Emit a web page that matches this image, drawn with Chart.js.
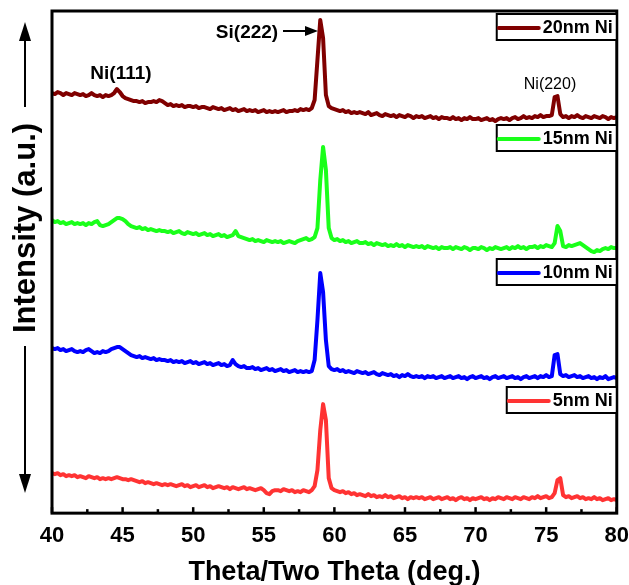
<!DOCTYPE html>
<html>
<head>
<meta charset="utf-8">
<script src="https://cdn.jsdelivr.net/npm/chart.js@4.4.1/dist/chart.umd.min.js"></script>
<style>
  html, body { margin: 0; padding: 0; background: #fff; }
  canvas { display: block; }
</style>
</head>
<body>
<canvas id="xrd-chart" width="629" height="585"></canvas>
<script>
// scan angles (deg.)
const twoTheta = [
  40, 40.2, 40.4, 40.6, 40.8, 41, 41.2, 41.4, 41.6, 41.8,
  42, 42.2, 42.4, 42.6, 42.8, 43, 43.2, 43.4, 43.6, 43.8,
  44, 44.2, 44.4, 44.6, 44.8, 45, 45.2, 45.4, 45.6, 45.8,
  46, 46.2, 46.4, 46.6, 46.8, 47, 47.2, 47.4, 47.6, 47.8,
  48, 48.2, 48.4, 48.6, 48.8, 49, 49.2, 49.4, 49.6, 49.8,
  50, 50.2, 50.4, 50.6, 50.8, 51, 51.2, 51.4, 51.6, 51.8,
  52, 52.2, 52.4, 52.6, 52.8, 53, 53.2, 53.4, 53.6, 53.8,
  54, 54.2, 54.4, 54.6, 54.8, 55, 55.2, 55.4, 55.6, 55.8,
  56, 56.2, 56.4, 56.6, 56.8, 57, 57.2, 57.4, 57.6, 57.8,
  58, 58.2, 58.4, 58.6, 58.8, 59, 59.2, 59.4, 59.6, 59.8,
  60, 60.2, 60.4, 60.6, 60.8, 61, 61.2, 61.4, 61.6, 61.8,
  62, 62.2, 62.4, 62.6, 62.8, 63, 63.2, 63.4, 63.6, 63.8,
  64, 64.2, 64.4, 64.6, 64.8, 65, 65.2, 65.4, 65.6, 65.8,
  66, 66.2, 66.4, 66.6, 66.8, 67, 67.2, 67.4, 67.6, 67.8,
  68, 68.2, 68.4, 68.6, 68.8, 69, 69.2, 69.4, 69.6, 69.8,
  70, 70.2, 70.4, 70.6, 70.8, 71, 71.2, 71.4, 71.6, 71.8,
  72, 72.2, 72.4, 72.6, 72.8, 73, 73.2, 73.4, 73.6, 73.8,
  74, 74.2, 74.4, 74.6, 74.8, 75, 75.2, 75.4, 75.6, 75.8,
  76, 76.2, 76.4, 76.6, 76.8, 77, 77.2, 77.4, 77.6, 77.8,
  78, 78.2, 78.4, 78.6, 78.8, 79, 79.2, 79.4, 79.6, 79.8,
  80
];

// intensities (a.u.), curves already offset like in the figure
const ni20 = [
  420, 419, 421, 420, 418, 420, 419, 418, 420, 419,
  418, 419, 417, 418, 420, 418, 417, 418, 416, 418,
  417, 418, 420, 424, 421, 417, 415, 414, 413, 412,
  412, 411, 412, 410, 411, 411, 412, 411, 413, 412,
  410, 408, 409, 407, 408, 407, 408, 406, 407, 407,
  406, 407, 405, 406, 406, 405, 404, 406, 405, 404,
  405, 403, 404, 405, 403, 404, 402, 403, 404, 402,
  403, 402, 403, 401, 402, 403, 401, 402, 401, 402,
  401, 402, 403, 401, 402, 402, 403, 402, 404, 403,
  404, 403, 405, 413, 453, 493, 475, 418, 407, 405,
  404, 403, 402, 403, 401, 402, 400, 401, 400, 401,
  400, 399, 401, 398, 399, 400, 398, 397, 399, 398,
  397, 398, 396, 398, 397, 396, 398, 397, 395, 397,
  396, 397, 395, 396, 397, 395, 396, 394, 396, 395,
  395, 394, 396, 394, 395, 393, 395, 394, 396, 394,
  394, 395, 393, 394, 395, 393, 394, 392, 394, 395,
  394, 395, 393, 395, 396, 394, 395, 397, 395, 396,
  395, 397, 396, 398, 396, 397, 397, 398, 416, 417,
  399, 396, 397, 395, 397, 396, 398, 396, 395, 397,
  396, 395, 397, 396, 395, 397, 396, 394, 396, 395,
  396
];
const ni15 = [
  293, 291, 292, 290, 291, 289, 290, 291, 289, 290,
  289, 290, 288, 290, 289, 291, 292, 288, 287, 288,
  289, 291, 293, 295, 295, 294, 292, 289, 287, 286,
  285, 286, 284, 285, 283, 284, 283, 282, 283, 282,
  282, 281, 282, 280, 281, 282, 280, 279, 281, 280,
  279, 280, 278, 279, 280, 278, 279, 277, 278, 279,
  277, 278, 276, 277, 278, 282, 277, 276, 275, 274,
  273, 274, 272, 273, 272, 271, 273, 272, 271, 272,
  271, 272, 270, 271, 272, 271, 270, 272, 273, 274,
  275, 273, 274, 276, 285, 333, 366, 343, 285, 275,
  273, 274, 272, 273, 271, 272, 270, 271, 272, 270,
  270, 271, 269, 270, 268, 270, 269, 268, 269, 267,
  268, 267, 269, 267, 268, 266, 268, 267, 266, 267,
  266, 267, 265, 267, 266, 265, 266, 264, 266, 265,
  265, 266, 264, 266, 265, 264, 266, 265, 263, 265,
  265, 264, 266, 265, 263, 265, 264, 266, 265, 264,
  265, 266, 264, 266, 265, 267, 265, 266, 264, 266,
  266, 267, 265, 267, 266, 268, 267, 266, 270, 287,
  282, 267, 266, 268, 267, 268, 269, 270, 268, 266,
  264, 262, 261, 263, 262, 264, 265, 264, 266, 265,
  265
];
const ni10 = [
  165, 164, 165, 163, 164, 162, 163, 164, 162, 161,
  162, 161, 163, 164, 162, 160, 161, 160, 162, 161,
  162, 164, 165, 166, 166, 164, 162, 160, 158, 157,
  156, 157, 155, 156, 155, 154, 155, 153, 154, 153,
  153, 152, 153, 151, 152, 151, 152, 150, 151, 152,
  150, 151, 149, 150, 151, 149, 150, 148, 149, 150,
  148, 149, 147, 148, 153, 149, 147, 146, 147, 145,
  145, 146, 144, 145, 143, 144, 145, 143, 144, 142,
  143, 144, 142, 143, 141, 142, 143, 141, 142, 141,
  142, 141, 142, 153, 193, 240, 221, 173, 147, 144,
  143, 144, 142, 143, 141, 142, 141, 140, 142, 141,
  140, 141, 139, 140, 141, 139, 138, 140, 139, 138,
  139, 137, 138, 136, 138, 137, 139, 137, 136, 137,
  136, 137, 135, 137, 136, 137, 135, 136, 137, 135,
  136, 137, 135, 136, 137, 135, 136, 134, 136, 137,
  135, 136, 137, 135, 136, 134, 136, 137, 135, 136,
  137, 135, 136, 137, 135, 136, 134, 136, 137, 135,
  136, 137, 135, 137, 136, 138, 136, 137, 158, 159,
  139, 137, 138, 136, 137, 138, 136, 137, 135, 136,
  137, 135, 136, 134, 136, 135, 137, 134, 135, 136,
  135
];
const ni5 = [
  40, 39, 40, 38, 39, 37, 38, 37, 38, 36,
  37, 36, 35, 37, 36, 35, 36, 34, 35, 34,
  35, 34, 35, 36, 35, 34, 34, 33, 34, 33,
  32, 31, 32, 30, 31, 30, 29, 30, 29, 28,
  29, 28, 29, 28, 27, 28, 29, 27, 28, 26,
  27, 28, 26, 27, 28, 26, 27, 25, 26, 27,
  26, 25, 26, 24, 26, 25, 24, 25, 26, 24,
  25, 24, 23, 24, 25, 23, 20, 19, 22, 23,
  23, 22, 24, 23, 22, 23, 21, 22, 21, 23,
  22, 21, 23, 27, 43, 83, 109, 93, 35, 25,
  23, 22, 21, 22, 20, 21, 19, 20, 18, 19,
  18, 17, 19, 17, 18, 16, 17, 16, 18, 16,
  17, 15, 16, 17, 15, 16, 14, 16, 15, 16,
  15, 16, 14, 15, 16, 14, 15, 16, 14, 15,
  16, 14, 15, 13, 15, 16, 14, 15, 13, 15,
  14, 15, 16, 14, 15, 13, 15, 14, 16, 15,
  14, 16, 15, 14, 16, 15, 14, 16, 15, 14,
  16, 15, 17, 15, 16, 17, 15, 16, 20, 33,
  35, 18, 16, 17, 15, 16, 17, 15, 16, 14,
  15, 14, 16, 14, 15, 13, 14, 15, 13, 14,
  13
];

const seriesNames = ['20nm Ni', '15nm Ni', '10nm Ni', '5nm Ni'];
const seriesValues = [ni20, ni15, ni10, ni5];
const seriesColors = ['#800000', '#1aff1a', '#0000ff', '#ff3333'];
const peakLabels = ['Ni(111)', 'Si(222)', 'Ni(220)'];

const FONT = "'Liberation Sans', Arial, sans-serif";

// frame, inner ticks, legend boxes, peak labels and the y title with arrows
const decorations = {
  id: 'decorations',
  afterDraw(chart) {
    const ctx = chart.ctx;
    const area = chart.chartArea;
    const xs = chart.scales.x;
    ctx.save();

    // inner tick marks on the bottom axis
    ctx.strokeStyle = '#000';
    ctx.lineWidth = 2.5;
    for (let v = 40; v <= 80; v += 2.5) {
      const px = xs.getPixelForValue(v);
      const len = v % 5 === 0 ? 6 : 4;
      ctx.beginPath();
      ctx.moveTo(px, area.bottom);
      ctx.lineTo(px, area.bottom - len);
      ctx.stroke();
    }

    // frame
    ctx.lineWidth = 3;
    ctx.strokeRect(area.left, area.top, area.right - area.left, area.bottom - area.top);

    // legend boxes, one per curve
    const legendTops = [14, 125, 259, 387];
    ctx.font = 'bold 18px ' + FONT;
    ctx.textBaseline = 'middle';
    ctx.textAlign = 'left';
    seriesNames.forEach((name, i) => {
      const tw = ctx.measureText(name).width;
      const w = 1 + 41 + 4 + tw + 4;
      const h = 26;
      const x0 = area.right - w;
      const y0 = legendTops[i];
      ctx.fillStyle = '#fff';
      ctx.fillRect(x0, y0, w, h);
      ctx.strokeStyle = '#000';
      ctx.lineWidth = 2;
      ctx.strokeRect(x0, y0, w, h);
      ctx.strokeStyle = seriesColors[i];
      ctx.lineWidth = 4;
      ctx.lineCap = 'round';
      ctx.beginPath();
      ctx.moveTo(x0 + 2, y0 + h / 2 + 1);
      ctx.lineTo(x0 + 42, y0 + h / 2 + 1);
      ctx.stroke();
      ctx.lineCap = 'butt';
      ctx.fillStyle = '#000';
      ctx.fillText(name, x0 + 46, y0 + h / 2 + 1);
    });

    // peak labels
    ctx.fillStyle = '#000';
    ctx.textAlign = 'center';
    ctx.font = 'bold 19px ' + FONT;
    ctx.fillText(peakLabels[0], 121, 74);
    ctx.font = 'bold 19px ' + FONT;
    ctx.fillText(peakLabels[1], 247, 33);
    ctx.font = '16px ' + FONT;
    ctx.fillText(peakLabels[2], 550, 85);

    // arrow pointing at Si(222)
    ctx.strokeStyle = '#000';
    ctx.lineWidth = 2;
    ctx.beginPath();
    ctx.moveTo(283, 31);
    ctx.lineTo(306, 31);
    ctx.stroke();
    ctx.beginPath();
    ctx.moveTo(318, 31);
    ctx.lineTo(305, 26);
    ctx.lineTo(305, 36);
    ctx.closePath();
    ctx.fill();

    // y title with arrows
    const ax = 25;
    ctx.save();
    ctx.translate(ax + 1, 228);
    ctx.rotate(-Math.PI / 2);
    ctx.font = 'bold 31px ' + FONT;
    ctx.textAlign = 'center';
    ctx.textBaseline = 'middle';
    ctx.fillText('Intensity (a.u.)', 0, 0);
    ctx.restore();
    ctx.lineWidth = 2;
    ctx.beginPath();
    ctx.moveTo(ax, 107);
    ctx.lineTo(ax, 38);
    ctx.moveTo(ax, 346);
    ctx.lineTo(ax, 477);
    ctx.stroke();
    ctx.beginPath();
    ctx.moveTo(ax, 22);
    ctx.lineTo(ax - 6, 41);
    ctx.lineTo(ax + 6, 41);
    ctx.closePath();
    ctx.fill();
    ctx.beginPath();
    ctx.moveTo(ax, 493);
    ctx.lineTo(ax - 6, 474);
    ctx.lineTo(ax + 6, 474);
    ctx.closePath();
    ctx.fill();

    ctx.restore();
  }
};

new Chart(document.getElementById('xrd-chart'), {
  type: 'line',
  data: {
    datasets: seriesNames.map((name, i) => ({
      label: name,
      data: twoTheta.map((t, j) => ({ x: t, y: seriesValues[i][j] })),
      borderColor: seriesColors[i],
      backgroundColor: seriesColors[i],
      borderWidth: 4,
      borderJoinStyle: 'round',
      pointRadius: 0,
      tension: 0,
      fill: false
    }))
  },
  options: {
    responsive: false,
    animation: false,
    layout: {
      padding: { left: 52, top: 11, right: 0, bottom: 0 }
    },
    plugins: {
      legend: { display: false },
      tooltip: { enabled: false }
    },
    scales: {
      x: {
        type: 'linear',
        min: 40,
        max: 80,
        grid: { display: false, drawTicks: false },
        border: { display: false },
        ticks: {
          stepSize: 5,
          padding: 0,
          color: '#000',
          font: { family: FONT, size: 22, weight: 'bold', lineHeight: 2.1 }
        },
        title: {
          display: true,
          text: 'Theta/Two Theta (deg.)',
          color: '#000',
          padding: 0,
          font: { family: FONT, size: 27, weight: 'bold', lineHeight: 0.95 }
        }
      },
      y: {
        display: false,
        min: 0,
        max: 502
      }
    }
  },
  plugins: [decorations]
});
</script>
</body>
</html>
